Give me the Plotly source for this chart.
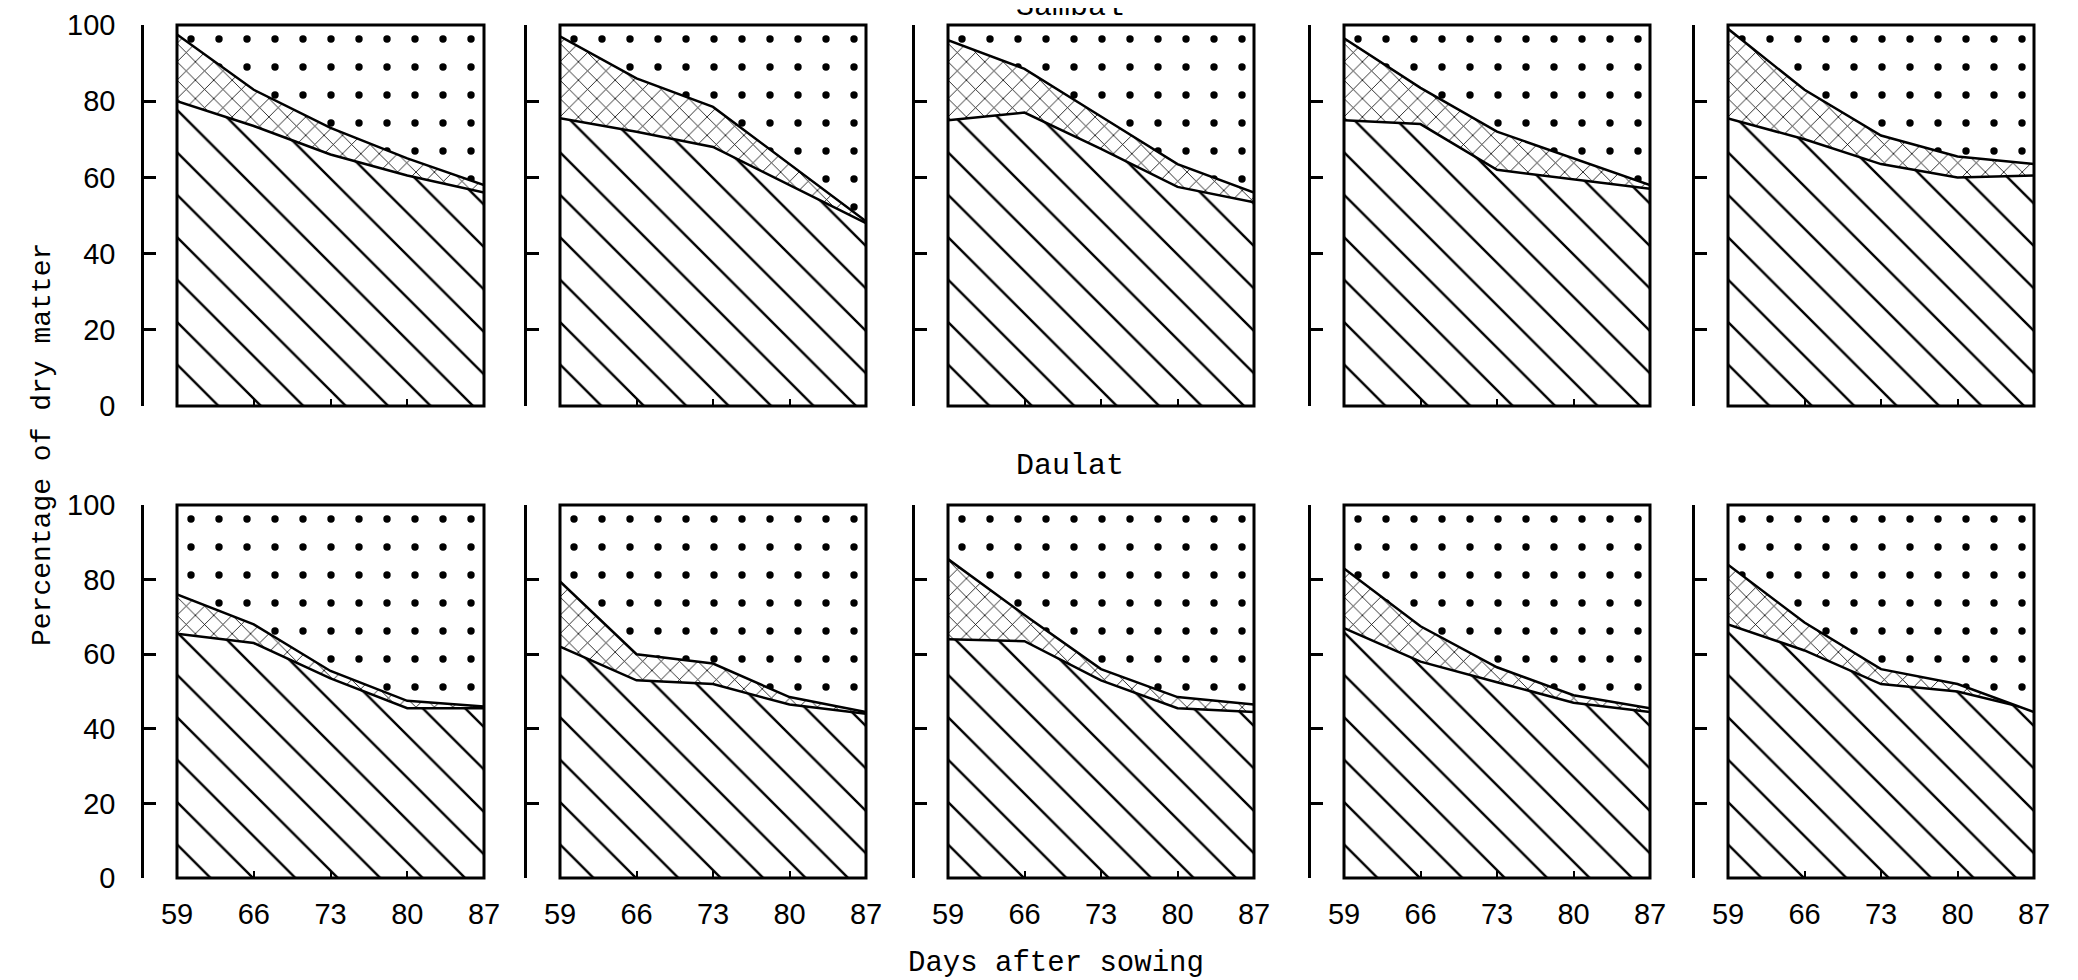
import plotly.graph_objects as go

# days after sowing and tick labels
days = [59, 66, 73, 80, 87]
day_labels = ['59', '66', '73', '80', '87']
pct_ticks = [0, 20, 40, 60, 80, 100]
top_line = [100, 100, 100, 100, 100]

# Sambal (top row): top of the hatched layer and top of the crossed layer, one list per panel
sambal_lower = [
    [80, 73.5, 66, 60.5, 56],
    [75.5, 72, 68, 58, 48],
    [75, 77, 67.5, 57.5, 53.5],
    [75, 74, 62, 59.5, 57],
    [75.5, 70, 63.5, 60, 60.5],
]
sambal_upper = [
    [97.5, 83, 73, 65, 58],
    [97, 86, 78.5, 63.5, 48.5],
    [96, 88.5, 76, 63.5, 56],
    [96.5, 83.5, 72, 65, 58],
    [99, 83, 71, 65.5, 63.5],
]

# Daulat (bottom row)
daulat_lower = [
    [65.5, 63, 53.5, 45.5, 45.5],
    [62, 53, 52, 46.5, 44],
    [64, 63.5, 53, 45.5, 44.5],
    [67, 58, 52.5, 47, 44.5],
    [68, 61, 52, 50, 45],
]
daulat_upper = [
    [76, 68, 55.5, 47.5, 46],
    [79.5, 60, 57.5, 48.5, 44.5],
    [85.5, 70.5, 56, 48.5, 46.5],
    [83, 67.5, 56.5, 49, 45.5],
    [84, 68.5, 56, 52, 44.5],
]

W, H = 2078, 980
box_px = [(169, 476), (552, 858), (940, 1246), (1336, 1642), (1720, 2026)]
bracket_px = [134, 517, 905, 1301, 1685]
rows_px = [(17, 398), (497, 870)]

mono = 'Liberation Mono'
sans = 'Liberation Sans'

fig = go.Figure()
layout = {}
shapes = []
n = 0
for r, (lows, ups) in enumerate([(sambal_lower, sambal_upper), (daulat_lower, daulat_upper)]):
    for c in range(5):
        n += 1
        xa = 'x' if n == 1 else f'x{n}'
        ya = 'y' if n == 1 else f'y{n}'
        edge = dict(color='black', width=2.5)

        # hatched layer
        fig.add_trace(go.Scatter(
            x=days, y=lows[c], xaxis=xa, yaxis=ya, mode='lines', line=edge,
            fill='tozeroy', fillcolor='white',
            fillpattern=dict(shape='\\', fgcolor='black', bgcolor='white', size=30, solidity=0.08),
        ))
        # crossed layer
        fig.add_trace(go.Scatter(
            x=days, y=ups[c], xaxis=xa, yaxis=ya, mode='lines', line=edge,
            fill='tonexty', fillcolor='white',
            fillpattern=dict(shape='x', fgcolor='black', bgcolor='white', size=13, solidity=0.12),
        ))
        # dotted layer
        fig.add_trace(go.Scatter(
            x=days, y=top_line, xaxis=xa, yaxis=ya, mode='lines', line=dict(width=0),
            fill='tonexty', fillcolor='white',
            fillpattern=dict(shape='.', fgcolor='black', bgcolor='white', size=28, solidity=0.055),
        ))

        x0, x1 = box_px[c]
        y_top, y_bot = rows_px[r]
        key = '' if n == 1 else str(n)
        layout['xaxis' + key] = dict(
            domain=[x0 / W, x1 / W], anchor=ya, range=[59, 87], automargin=False,
            tickvals=days, ticktext=day_labels, showticklabels=(r == 1),
            ticks='inside', ticklen=7, tickwidth=2, tickcolor='black',
            showline=False, showgrid=False, zeroline=False,
            tickfont=dict(family=sans, size=29, color='black'), ticklabelstandoff=16,
            ticklabeloverflow='allow',
        )
        layout['yaxis' + key] = dict(
            domain=[1 - y_bot / H, 1 - y_top / H], anchor='free', position=bracket_px[c] / W,
            range=[0, 100], tickvals=pct_ticks, showticklabels=(c == 0), automargin=False,
            ticks='inside', ticklen=12, tickwidth=3, tickcolor='black',
            showline=True, linewidth=2.5, linecolor='black',
            showgrid=False, zeroline=False,
            tickfont=dict(family=sans, size=29, color='black'), ticklabelstandoff=20,
            ticklabeloverflow='allow',
        )
        shapes.append(dict(
            type='rect', xref=f'{xa} domain', yref=f'{ya} domain',
            x0=0, x1=1, y0=0, y1=1, line=dict(color='black', width=3), layer='above',
        ))

fig.update_layout(
    width=W, height=H, autosize=False, template='none',
    margin=dict(l=0, r=0, t=0, b=0, autoexpand=False),
    paper_bgcolor='white', plot_bgcolor='white',
    showlegend=False, shapes=shapes,
    annotations=[
        dict(text='Sambal', x=1062 / W, y=1 + 1 / H, xref='paper', yref='paper',
             showarrow=False, yanchor='middle', font=dict(family=mono, size=30, color='black')),
        dict(text='Daulat', x=1062 / W, y=1 - 458 / H, xref='paper', yref='paper',
             showarrow=False, yanchor='middle', font=dict(family=mono, size=30, color='black')),
        dict(text='Days after sowing', x=1048 / W, y=1 - 955 / H, xref='paper', yref='paper',
             showarrow=False, yanchor='middle', font=dict(family=mono, size=29, color='black')),
        dict(text='Percentage of dry matter', x=34 / W, y=1 - 437 / H, xref='paper', yref='paper',
             showarrow=False, textangle=-90, xanchor='center', yanchor='middle',
             font=dict(family=mono, size=28, color='black')),
    ],
    **layout,
)

fig.write_html('out.html')
